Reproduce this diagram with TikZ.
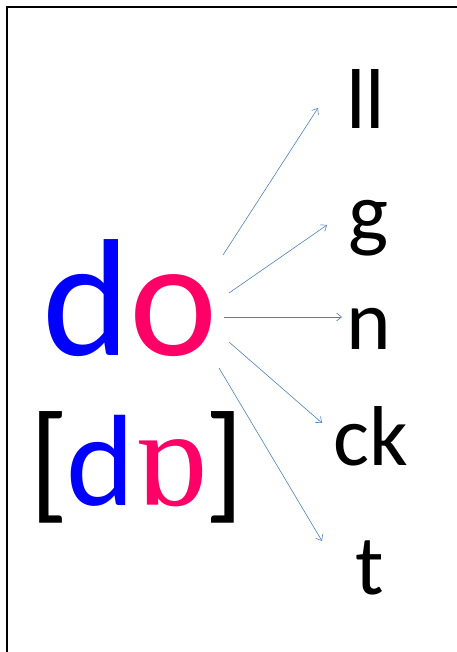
\documentclass[tikz,border=0pt]{standalone}
\usepackage{fontspec}
\setmainfont{Carlito}
\newfontfamily\ipafont{Liberation Serif}
\usetikzlibrary{arrows.meta}
\definecolor{dblue}{RGB}{0,0,255}
\definecolor{dpink}{RGB}{255,0,102}
\definecolor{arrowblue}{RGB}{79,129,189}
\tikzset{
  bigword/.style={inner sep=0pt, anchor=base, font=\fontsize{167pt}{167pt}\selectfont},
  ipaword/.style={inner sep=0pt, anchor=base, font=\fontsize{130pt}{130pt}\selectfont},
  ending/.style={inner sep=0pt, anchor=base, font=\fontsize{85pt}{85pt}\selectfont},
  link/.style={draw=arrowblue, line width=0.6pt, -{Straight Barb[length=5pt,width=8pt]}},
  frameline/.style={line width=2.4pt}
}
\begin{document}
\begin{tikzpicture}[x=1pt,y=1pt]
\useasboundingbox (0,0) rectangle (456,-652);
\draw[frameline] (7,-660) -- (7,-7) -- (470,-7);
\node[bigword] (do) at (130,-355) {\textcolor{dblue}{d}\textcolor{dpink}{o}};
\node[ipaword] (ipa) at (137,-505) {[\kern-3pt\textcolor{dblue}{d}\textcolor{dpink}{\ipafont\fontsize{140pt}{140pt}\selectfont ɒ}\kern-3pt]};
\node[ending] (ll) at (366,-129) {ll};
\node[ending] (g) at (368,-241) {g};
\node[ending] (n) at (369,-349) {n};
\node[ending] (ck) at (371,-465) {ck};
\node[ending] (t) at (370,-594) {t};
\coordinate (s1) at (223,-255);
\coordinate (s2) at (229,-293);
\coordinate (s3) at (224,-317);
\coordinate (s4) at (229,-342);
\coordinate (s5) at (219,-368);
\coordinate (e1) at (318,-108);
\coordinate (e2) at (327,-225);
\coordinate (e3) at (342,-317);
\coordinate (e4) at (322,-423);
\coordinate (e5) at (322,-541);
\draw[link] (s1) -- (e1);
\draw[link] (s2) -- (e2);
\draw[link] (s3) -- (e3);
\draw[link] (s4) -- (e4);
\draw[link] (s5) -- (e5);
\end{tikzpicture}
\end{document}
